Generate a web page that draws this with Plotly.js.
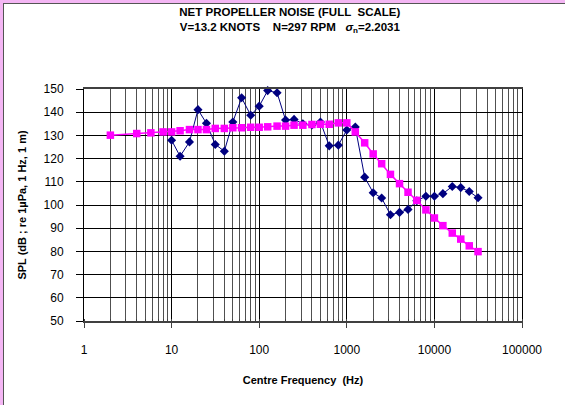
<!DOCTYPE html>
<html>
<head>
<meta charset="utf-8">
<script src="https://cdn.plot.ly/plotly-3.0.1.min.js"></script>
<style>
  html, body { margin: 0; padding: 0; background: #ffffff; }
  #wrap { position: relative; width: 565px; height: 405px; overflow: hidden; }
  #chart { position: absolute; left: 0; top: 0; width: 565px; height: 405px; }
  .deco { position: absolute; pointer-events: none; }
</style>
</head>
<body>
<div id="wrap">
  <div id="chart"></div>
  <div class="deco" style="left:0;top:0;width:565px;height:3px;background:#f4b6f4;"></div>
  <div class="deco" style="left:0;top:0;width:3px;height:405px;background:#f4b6f4;"></div>
  <div class="deco" style="left:3px;top:3px;width:562px;height:1px;background:#555555;"></div>
  <div class="deco" style="left:3px;top:3px;width:1px;height:402px;background:#555555;"></div>
</div>
<script>
// Magenta series (squares)
var freqMag = [2,4,5.8,8,10,12.5,16,20,25,31.5,40,50,63,80,100,125,160,200,250,315,400,500,630,800,1000,1250,1600,2000,2500,3150,4000,5000,6300,8000,10000,12500,16000,20000,25000,31500];
var splMag = [130.1,130.8,131.1,131.5,131.5,132,132.5,132.5,132.5,133,133,133.3,133.3,133.5,133.5,133.7,134,134,134.4,134.4,134.7,134.8,134.8,135.4,135.4,131.5,126.8,122,117.8,113.2,109.2,105.5,102,97.9,94.4,91.1,87.9,85.3,82.4,79.9];

// Navy series (diamonds)
var freqBlue = [10,12.5,16,20,25,31.5,40,50,63,80,100,125,160,200,250,315,400,500,630,800,1000,1250,1600,2000,2500,3150,4000,5000,6300,8000,10000,12500,16000,20000,25000,31500];
var splBlue = [127.9,121,127.2,141.1,135.2,126.1,123.2,135.8,146.2,138.7,142.6,149.3,148.4,136.6,136.9,135,134.5,135.8,125.5,125.8,132.3,133.6,112,105.3,103,95.8,96.8,98.1,101.8,103.8,103.8,104.9,108,107.5,105.8,103.1];

// Axis tick labels
var xTickVals = [1,10,100,1000,10000,100000];
var xTickText = ["1","10","100","1000","10000","100000"];

var traceBlue = {
  x: freqBlue, y: splBlue, type: 'scatter', mode: 'lines+markers',
  line: {color: '#000080', width: 1},
  marker: {symbol: 'diamond', size: 7, color: '#000080'},
  cliponaxis: false, showlegend: false
};
var traceMag = {
  x: freqMag, y: splMag, type: 'scatter', mode: 'lines+markers',
  line: {color: '#ff00ff', width: 1.5},
  marker: {symbol: 'square', size: 7.5, color: '#ff00ff'},
  cliponaxis: false, showlegend: false
};

var layout = {
  width: 565, height: 405,
  margin: {l: 84, r: 43, t: 89, b: 84},
  paper_bgcolor: '#ffffff', plot_bgcolor: '#ffffff',
  font: {family: 'Liberation Sans, Arial, sans-serif', color: '#000000', size: 12},
  title: {
    text: '<b>NET PROPELLER NOISE (FULL&nbsp; SCALE)</b><br><b>V=13.2 KNOTS&nbsp;&nbsp;&nbsp; N=297 RPM&nbsp;&nbsp; <i>σ</i><sub>n</sub>=2.2031</b>',
    font: {family: 'Liberation Sans, Arial, sans-serif', size: 11.5, color: '#000000'},
    xref: 'container', x: 0.513, xanchor: 'center',
    yref: 'container', y: 1 - 16/405, yanchor: 'top'
  },
  xaxis: {
    type: 'log', range: [0, 5],
    tickvals: xTickVals, ticktext: xTickText,
    ticks: 'outside', ticklen: 5, tickcolor: '#404040', tickwidth: 1,
    ticklabelstandoff: 12,
    showgrid: true, gridcolor: '#000000', gridwidth: 1,
    minor: {dtick: 'D1', showgrid: true, gridcolor: '#505050', gridwidth: 1, ticks: 'inside', ticklen: 2, tickcolor: '#404040'},
    showline: true, linecolor: '#404040', linewidth: 2, mirror: true,
    zeroline: false,
    tickfont: {size: 12},
    title: {text: '<b>Centre Frequency&nbsp; (Hz)</b>', font: {size: 11}, standoff: 20}
  },
  yaxis: {
    range: [50, 150], dtick: 10,
    ticks: 'outside', ticklen: 7, tickcolor: '#000000', tickwidth: 1,
    ticklabelstandoff: 10,
    showgrid: true, gridcolor: '#000000', gridwidth: 1,
    showline: true, linecolor: '#000000', linewidth: 1, mirror: true,
    zeroline: false,
    tickfont: {size: 12},
    title: {text: '<b>SPL (dB ; re 1µPa, 1 Hz, 1 m)</b>', font: {size: 11}, standoff: 14}
  }
};

Plotly.newPlot('chart', [traceBlue, traceMag], layout, {displayModeBar: false, staticPlot: true});
</script>
</body>
</html>
